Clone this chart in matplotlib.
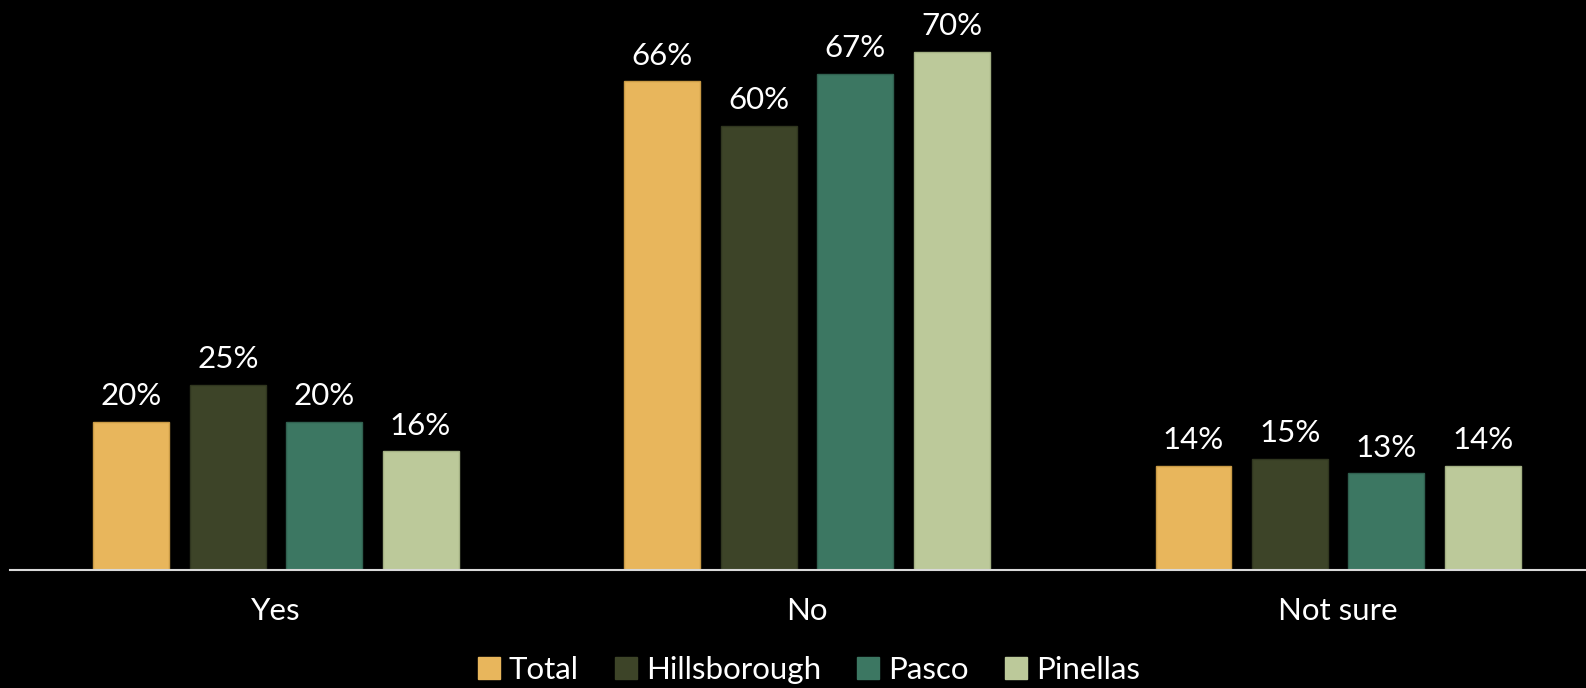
import matplotlib
matplotlib.use("Agg")
import matplotlib.pyplot as plt
import numpy as np
from matplotlib.patches import Patch

categories = ["Yes", "No", "Not sure"]
series_names = ["Total", "Hillsborough", "Pasco", "Pinellas"]
total = [20, 66, 14]
hillsborough = [25, 60, 15]
pasco = [20, 67, 13]
pinellas = [16, 70, 14]
colors = ["#E8B65C", "#3D4428", "#3C7762", "#BCC99A"]
edges = ["#C99A45", "#30361F", "#30604F", "#A3B083"]

series = [total, hillsborough, pasco, pinellas]

plt.rcParams['font.family'] = ['Lato', 'DejaVu Sans']
FS = 22.5

fig = plt.figure(figsize=(15.86, 6.88), dpi=100, facecolor="black")
ax = fig.add_axes([0.0066, 0.1722, 1.0045, 0.8278])
ax.set_facecolor("black")

x = np.arange(len(categories))
width = 0.143
step = 0.1815
offsets = (np.arange(len(series)) - 1.5) * step

for i, (vals, c, ec, name) in enumerate(zip(series, colors, edges, series_names)):
    bars = ax.bar(x + offsets[i], vals, width, color=c, edgecolor=ec, linewidth=1, label=name)
    for b, v in zip(bars, vals):
        ax.annotate(f"{v}%", (b.get_x() + b.get_width() / 2, v),
                    xytext=(0, 12), textcoords="offset points",
                    ha="center", va="baseline", color="white", fontsize=FS)

ax.set_xlim(-0.5, 2.5)
ax.set_ylim(0, 77)
ax.set_yticks([])
ax.set_xticks(x)
ax.set_xticklabels(categories, color="white", fontsize=FS)
ax.tick_params(axis="x", length=0, pad=20)
for s in ["top", "right", "left"]:
    ax.spines[s].set_visible(False)
ax.spines["bottom"].set_color("#D9D9D9")
ax.spines["bottom"].set_linewidth(1.5)

handles = [Patch(facecolor=c, edgecolor=c) for c in colors]
leg = fig.legend(handles, series_names, loc="center", bbox_to_anchor=(0.51, 0.026),
                 ncol=4, frameon=False, handlelength=0.7, handleheight=0.7,
                 handletextpad=0.3, columnspacing=1.15, labelcolor="white",
                 prop={'size': FS})

fig.savefig("out.png", dpi=100, facecolor="black")
